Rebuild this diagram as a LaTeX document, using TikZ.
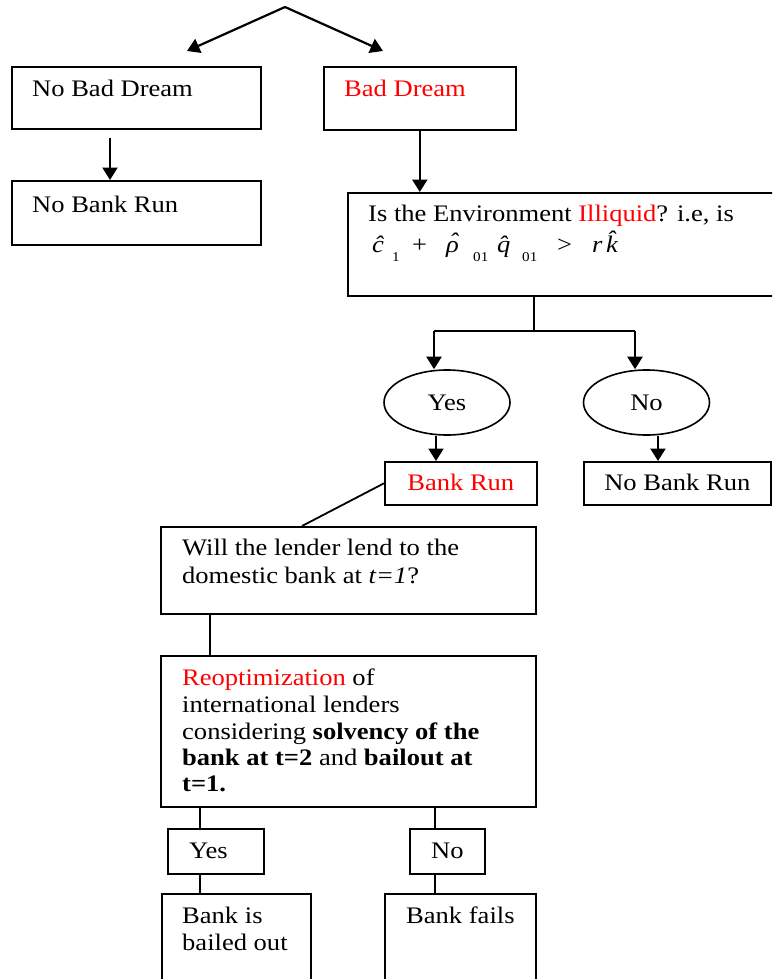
\documentclass[tikz,border=0pt]{standalone}
\usepackage{fontspec}
\setmainfont{Liberation Serif}[FakeStretch=1.12]
\usetikzlibrary{arrows.meta,shapes.geometric}
\newcommand\rhohat{\ooalign{ρ\cr\hidewidth\kern2pt\raisebox{3pt}{ˆ}\hidewidth\cr}}
\tikzset{
  box/.style={draw, line width=1.6pt, rectangle, inner sep=0pt, anchor=north west},
  txt/.style={anchor=base west, inner sep=0pt, font=\fontsize{23.7}{28}\selectfont},
  ctxt/.style={anchor=base, inner sep=0pt, font=\fontsize{23.7}{28}\selectfont},
  subtxt/.style={anchor=base west, inner sep=0pt, font=\fontsize{13.5}{15}\selectfont},
  arr/.style={line width=2.2pt, -{Triangle[width=15pt,length=12.5pt]}},
  ln/.style={line width=1.8pt},
  oval/.style={draw, ellipse, line width=1.6pt, minimum width=126pt, minimum height=65pt,
               inner sep=0pt, font=\fontsize{23.7}{28}\selectfont},
}
\begin{document}
\begin{tikzpicture}[x=1pt,y=-1pt]
\useasboundingbox (0,0) rectangle (772,979);
\clip (0,0) rectangle (772,979);

% boxes
\node[box, minimum width=249pt, minimum height=62pt] (nbd) at (11,66) {};
\node[box, minimum width=192pt, minimum height=63pt] (bd) at (323,66) {};
\node[box, minimum width=249pt, minimum height=64pt] (nbr1) at (11,180) {};
\node[box, minimum width=450pt, minimum height=103pt] (ill) at (347,192) {};
\node[oval] (yes) at (447,402.5) {Yes};
\node[oval] (no) at (646.5,402.5) {No};
\node[box, minimum width=152pt, minimum height=43pt] (brun) at (384,461) {};
\node[box, minimum width=187pt, minimum height=43pt] (nbr2) at (583,461) {};
\node[box, minimum width=375pt, minimum height=87pt] (will) at (160,526) {};
\node[box, minimum width=375pt, minimum height=151pt] (reopt) at (160,655) {};
\node[box, minimum width=96pt, minimum height=45pt] (yesb) at (167,828) {};
\node[box, minimum width=75pt, minimum height=45pt] (nob) at (409,828) {};
\node[box, minimum width=149pt, minimum height=110pt] (bailed) at (161,893) {};
\node[box, minimum width=151pt, minimum height=110pt] (fails) at (384,893) {};

% texts
\node[txt] (t1) at (32,97) {No Bad Dream};
\node[txt, text=red] (t2) at (344,97) {Bad Dream};
\node[txt] (t3) at (32,212) {No Bank Run};
\node[txt] (t4) at (368,221) {Is the Environment \textcolor{red}{Illiquid}? i.e, is};
\node[txt] (f1) at (372,252) {\itshape \^c};
\node[subtxt] (f2) at (392,261) {1};
\node[txt] (f3) at (412,252) {+};
\node[txt] (f4) at (446,252) {\itshape \rhohat};
\node[subtxt] (f5) at (473,261) {01};
\node[txt] (f6) at (497,252) {\itshape \^{q}};
\node[subtxt] (f7) at (522,261) {01};
\node[txt] (f8) at (557,252) {>};
\node[txt] (f9) at (592,252) {\itshape r};
\node[txt] (f10) at (606,252) {\itshape \^{k}};
\node[ctxt, text=red] (t5) at (brun.center |- 0,490) {Bank Run};
\node[ctxt] (t6) at (nbr2.center |- 0,490) {No Bank Run};
\node[txt] (w1) at (182,555) {Will the lender lend to the};
\node[txt] (w2) at (182,583) {domestic bank at \textit{t=1}?};
\node[txt] (r1) at (182,685) {\textcolor{red}{Reoptimization} of};
\node[txt] (r2) at (182,712) {international lenders};
\node[txt] (r3) at (182,739) {considering \textbf{solvency of the}};
\node[txt] (r4) at (182,765) {\textbf{bank at t=2} and \textbf{bailout at}};
\node[txt] (r5) at (182,791) {\textbf{t=1.}};
\node[txt] (y1) at (189,858) {Yes};
\node[ctxt] (n1) at (nob.center |- 0,858) {No};
\node[txt] (b1) at (182,923) {Bank is};
\node[txt] (b2) at (182,950) {bailed out};
\node[txt] (b3) at (406,923) {Bank fails};

% helper coordinates
\coordinate (apex) at (285,7);
\coordinate (tl) at (187,51);
\coordinate (tr) at (383,51);
\coordinate (x110) at (110,0);
\coordinate (jm) at (534,331);
\coordinate (jl) at (434,331);
\coordinate (jr) at (635,331);
\coordinate (x436) at (436,0);
\coordinate (x658) at (658,0);
\coordinate (x302) at (302,0);
\coordinate (x210) at (210,0);
\coordinate (x200) at (200,0);
\coordinate (x435) at (435,0);

% connectors
\draw[arr] (apex) -- (tl);
\draw[arr] (apex) -- (tr);
\draw[arr, shorten <=8pt] (nbd.south -| x110) -- (nbr1.north -| x110);
\draw[arr] (bd.south) -- (bd.south |- ill.north);
\draw[ln] (ill.south -| jm) -- (jm);
\draw[ln] (jl) -- (jr);
\draw[arr] (jl) -- (jl |- yes.north);
\draw[arr] (jr) -- (jr |- no.north);
\draw[arr] (yes.south -| x436) -- (brun.north -| x436);
\draw[arr] (no.south -| x658) -- (nbr2.north -| x658);
\draw[ln] (brun.west) -- (will.north -| x302);
\draw[ln] (will.south -| x210) -- (reopt.north -| x210);
\draw[ln] (reopt.south -| x200) -- (yesb.north -| x200);
\draw[ln] (yesb.south -| x200) -- (bailed.north -| x200);
\draw[ln] (reopt.south -| x435) -- (nob.north -| x435);
\draw[ln] (nob.south -| x435) -- (fails.north -| x435);
\end{tikzpicture}
\end{document}
